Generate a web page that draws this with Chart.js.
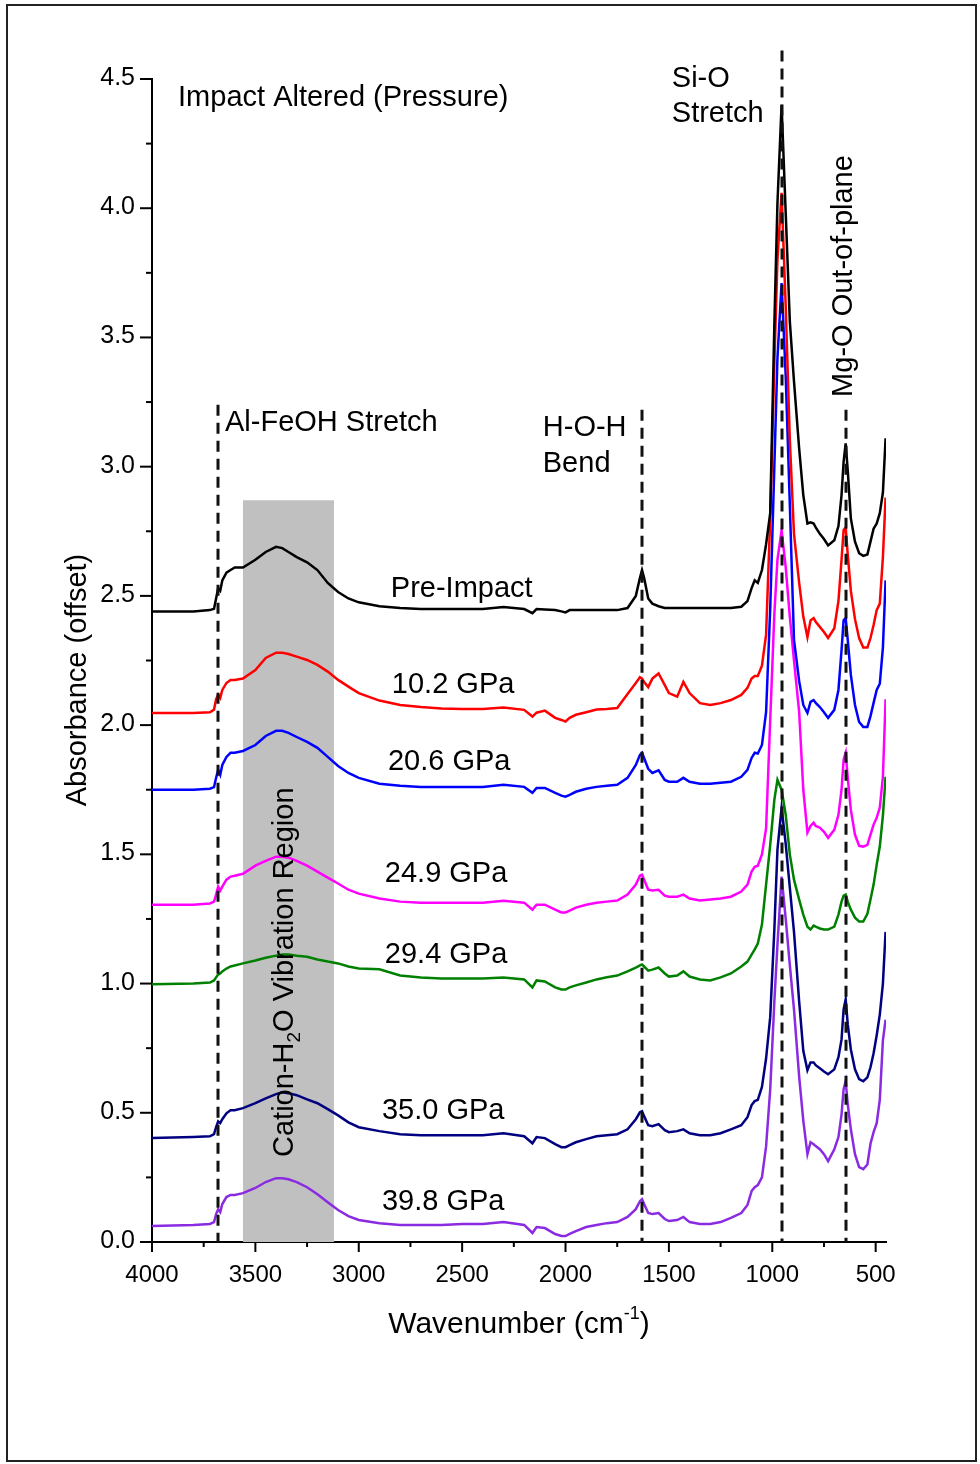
<!DOCTYPE html>
<html>
<head>
<meta charset="utf-8">
<title>Impact Altered (Pressure)</title>
<script src="https://cdn.jsdelivr.net/npm/chart.js@4.4.0/dist/chart.umd.min.js"></script>
<style>
  html, body { margin: 0; padding: 0; background: #fff; }
  canvas { display: block; }
</style>
</head>
<body>
<canvas id="chart" width="980" height="1464"></canvas>
<script>
// wavenumber grid (cm-1), shared by all spectra
const wavenumber = [
  4000, 3800, 3720, 3700, 3690, 3680, 3670, 3660, 3640, 3620,
  3600, 3560, 3500, 3450, 3400, 3370, 3340, 3300, 3250, 3200,
  3150, 3100, 3050, 3000, 2900, 2800, 2700, 2600, 2500, 2400,
  2300, 2200, 2160, 2140, 2100, 2050, 2020, 2000, 1980, 1950,
  1900, 1850, 1800, 1750, 1700, 1660, 1640, 1630, 1620, 1600,
  1580, 1550, 1520, 1500, 1460, 1430, 1400, 1350, 1300, 1250,
  1200, 1150, 1120, 1100, 1085, 1070, 1050, 1030, 1010, 990,
  975, 955, 935, 915, 895, 870, 850, 830, 815, 800,
  790, 770, 750, 730, 700, 680, 665, 655, 645, 635,
  620, 600, 580, 560, 540, 525, 510, 495, 480, 465, 452
];

const preImpact = [
  2.44, 2.44, 2.445, 2.45, 2.49, 2.53, 2.52, 2.56, 2.59, 2.60,
  2.61, 2.61, 2.64, 2.67, 2.69, 2.685, 2.67, 2.65, 2.63, 2.60,
  2.55, 2.515, 2.49, 2.475, 2.46, 2.453, 2.449, 2.449, 2.449, 2.449,
  2.457, 2.449, 2.433, 2.449, 2.447, 2.445, 2.44, 2.436, 2.445, 2.445,
  2.445, 2.445, 2.445, 2.445, 2.453, 2.50, 2.57, 2.60, 2.57, 2.49,
  2.47, 2.46, 2.453, 2.453, 2.453, 2.453, 2.453, 2.453, 2.453, 2.453,
  2.453, 2.458, 2.48, 2.53, 2.56, 2.55, 2.60, 2.70, 2.82, 3.55,
  4.02, 4.40, 3.98, 3.56, 3.33, 3.07, 2.89, 2.78, 2.785, 2.78,
  2.765, 2.74, 2.72, 2.695, 2.715, 2.77, 2.89, 3.02, 3.09, 2.985,
  2.80, 2.71, 2.665, 2.655, 2.66, 2.71, 2.76, 2.78, 2.82, 2.90, 3.11
];

const gpa10_2 = [
  2.047, 2.047, 2.05, 2.06, 2.10, 2.117, 2.105, 2.136, 2.163, 2.175,
  2.175, 2.18, 2.213, 2.26, 2.28, 2.28, 2.275, 2.265, 2.252, 2.233,
  2.207, 2.175, 2.149, 2.124, 2.095, 2.078, 2.07, 2.064, 2.062, 2.062,
  2.068, 2.059, 2.033, 2.048, 2.056, 2.028, 2.02, 2.014, 2.028, 2.04,
  2.05, 2.06, 2.062, 2.066, 2.12, 2.163, 2.185, 2.18, 2.167, 2.147,
  2.18, 2.20, 2.155, 2.124, 2.11, 2.167, 2.124, 2.085, 2.078, 2.085,
  2.097, 2.117, 2.144, 2.18, 2.19, 2.19, 2.23, 2.35, 2.80, 3.40,
  3.80, 4.06, 3.62, 3.10, 2.74, 2.55, 2.42, 2.34, 2.405, 2.414,
  2.40, 2.38, 2.36, 2.337, 2.375, 2.48, 2.64, 2.755, 2.765, 2.66,
  2.52, 2.41, 2.337, 2.30, 2.30, 2.337, 2.387, 2.445, 2.47, 2.65, 2.88
];

const gpa20_6 = [
  1.75, 1.75, 1.754, 1.76, 1.796, 1.827, 1.808, 1.846, 1.877, 1.893,
  1.893, 1.90, 1.923, 1.958, 1.978, 1.978, 1.97, 1.954, 1.935, 1.912,
  1.877, 1.842, 1.815, 1.796, 1.773, 1.765, 1.761, 1.761, 1.761, 1.761,
  1.769, 1.761, 1.738, 1.757, 1.757, 1.738, 1.727, 1.723, 1.73, 1.742,
  1.754, 1.761, 1.765, 1.769, 1.796, 1.846, 1.885, 1.893, 1.873, 1.831,
  1.815, 1.825, 1.788, 1.781, 1.781, 1.796, 1.781, 1.773, 1.773, 1.777,
  1.781, 1.80, 1.827, 1.873, 1.893, 1.89, 1.923, 2.05, 2.45, 3.00,
  3.42, 3.71, 3.35, 2.85, 2.33, 2.17, 2.078, 2.047, 2.09, 2.097,
  2.086, 2.07, 2.05, 2.028, 2.059, 2.136, 2.29, 2.406, 2.414, 2.33,
  2.194, 2.078, 2.012, 1.993, 1.993, 2.035, 2.086, 2.136, 2.16, 2.30, 2.56
];

const gpa24_9 = [
  1.305, 1.305, 1.31, 1.317, 1.344, 1.375, 1.36, 1.375, 1.402, 1.414,
  1.417, 1.425, 1.456, 1.475, 1.491, 1.491, 1.487, 1.475, 1.456, 1.433,
  1.41, 1.387, 1.363, 1.348, 1.329, 1.317, 1.313, 1.313, 1.313, 1.313,
  1.32, 1.313, 1.286, 1.305, 1.305, 1.286, 1.275, 1.275, 1.282, 1.294,
  1.305, 1.313, 1.317, 1.321, 1.344, 1.383, 1.417, 1.421, 1.402, 1.363,
  1.36, 1.363, 1.34, 1.336, 1.336, 1.344, 1.329, 1.321, 1.325, 1.329,
  1.336, 1.356, 1.383, 1.433, 1.452, 1.456, 1.50, 1.60, 2.02, 2.43,
  2.64, 2.754, 2.61, 2.418, 2.25, 2.05, 1.75, 1.584, 1.61, 1.622,
  1.61, 1.603, 1.587, 1.564, 1.595, 1.653, 1.75, 1.866, 1.893, 1.796,
  1.672, 1.576, 1.533, 1.53, 1.537, 1.576, 1.615, 1.642, 1.68, 1.80, 2.10
];

const gpa29_4 = [
  0.997, 1.0, 1.004, 1.012, 1.024, 1.035, 1.039, 1.047, 1.058, 1.066,
  1.07, 1.078, 1.089, 1.10, 1.108, 1.112, 1.112, 1.108, 1.104, 1.093,
  1.085, 1.078, 1.066, 1.058, 1.055, 1.031, 1.023, 1.02, 1.02, 1.02,
  1.023, 1.016, 0.985, 1.012, 1.008, 0.985, 0.977, 0.977, 0.985, 0.993,
  1.004, 1.016, 1.024, 1.031, 1.047, 1.062, 1.07, 1.074, 1.066, 1.05,
  1.054, 1.062, 1.039, 1.027, 1.031, 1.047, 1.027, 1.016, 1.012, 1.024,
  1.039, 1.066, 1.085, 1.112, 1.132, 1.155, 1.228, 1.383, 1.537, 1.711,
  1.788, 1.75, 1.653, 1.499, 1.402, 1.325, 1.267, 1.22, 1.209, 1.224,
  1.22, 1.213, 1.209, 1.209, 1.22, 1.267, 1.317, 1.34, 1.344, 1.317,
  1.286, 1.255, 1.24, 1.24, 1.27, 1.325, 1.383, 1.46, 1.53, 1.65, 1.80
];

const gpa35_0 = [
  0.402, 0.406, 0.409, 0.417, 0.444, 0.467, 0.46, 0.475, 0.498, 0.51,
  0.51, 0.518, 0.537, 0.556, 0.572, 0.579, 0.576, 0.568, 0.552, 0.537,
  0.514, 0.49, 0.463, 0.444, 0.429, 0.417, 0.413, 0.413, 0.413, 0.413,
  0.421, 0.409, 0.382, 0.406, 0.402, 0.379, 0.367, 0.367, 0.375, 0.386,
  0.398, 0.409, 0.413, 0.417, 0.436, 0.475, 0.502, 0.506, 0.487, 0.452,
  0.448, 0.456, 0.433, 0.425, 0.429, 0.436, 0.421, 0.413, 0.413, 0.421,
  0.436, 0.452, 0.483, 0.53, 0.545, 0.55, 0.60, 0.71, 0.87, 1.209,
  1.518, 1.68, 1.54, 1.37, 1.20, 0.93, 0.74, 0.665, 0.695, 0.695,
  0.684, 0.672, 0.66, 0.649, 0.668, 0.715, 0.784, 0.90, 0.939, 0.842,
  0.745, 0.668, 0.63, 0.622, 0.637, 0.676, 0.73, 0.80, 0.88, 1.0, 1.2
];

const gpa39_8 = [
  0.062, 0.066, 0.07, 0.077, 0.108, 0.127, 0.116, 0.147, 0.174, 0.182,
  0.182, 0.189, 0.209, 0.232, 0.247, 0.247, 0.243, 0.232, 0.212, 0.185,
  0.154, 0.124, 0.10, 0.085, 0.073, 0.066, 0.066, 0.066, 0.07, 0.07,
  0.077, 0.066, 0.035, 0.058, 0.054, 0.031, 0.023, 0.023, 0.031, 0.042,
  0.058, 0.066, 0.073, 0.077, 0.097, 0.127, 0.158, 0.166, 0.147, 0.112,
  0.108, 0.112, 0.089, 0.081, 0.085, 0.097, 0.077, 0.07, 0.07, 0.077,
  0.093, 0.112, 0.143, 0.197, 0.212, 0.22, 0.25, 0.37, 0.59, 0.93,
  1.15, 1.414, 1.25, 1.07, 0.90, 0.64, 0.47, 0.34, 0.386, 0.378,
  0.371, 0.359, 0.34, 0.313, 0.359, 0.406, 0.494, 0.591, 0.622, 0.533,
  0.436, 0.34, 0.29, 0.282, 0.30, 0.38, 0.425, 0.46, 0.55, 0.78, 0.86
];

const seriesNames = ['Pre-Impact', '10.2 GPa', '20.6 GPa', '24.9 GPa', '29.4 GPa', '35.0 GPa', '39.8 GPa'];
const seriesValues = [preImpact, gpa10_2, gpa20_6, gpa24_9, gpa29_4, gpa35_0, gpa39_8];
const seriesColors = ['#000000', '#ff0000', '#0000ff', '#ff00ff', '#008000', '#000080', '#8a2be2'];

const xTicks = [4000, 3500, 3000, 2500, 2000, 1500, 1000, 500];
const yTicks = [0, 0.5, 1.0, 1.5, 2.0, 2.5, 3.0, 3.5, 4.0, 4.5];

// band marks and peak guide lines (cm-1)
const cationBand = [3560, 3120];
const cationBandTop = 2.87;
const guideLines = [
  { wn: 3680, top: 3.24 },
  { wn: 1630, top: 3.22 },
  { wn: 955, top: 4.61 },
  { wn: 645, top: 3.22 }
];

// text anchors in data units (left / alphabetic baseline)
const seriesLabelAt = [
  [2845, 2.496], [2840, 2.124], [2859, 1.826], [2874, 1.393],
  [2874, 1.08], [2888, 0.476], [2888, 0.124]
];
const notes = [
  { text: 'Impact Altered (Pressure)', wn: 3874, y: 4.396 },
  { text: 'Si-O', wn: 1486, y: 4.469 },
  { text: 'Stretch', wn: 1486, y: 4.334 },
  { text: 'Al-FeOH Stretch', wn: 3647, y: 3.138 },
  { text: 'H-O-H', wn: 2110, y: 3.119 },
  { text: 'Bend', wn: 2110, y: 2.979 }
];

const FONT = "'Liberation Sans', Arial, Helvetica, sans-serif";

const datasets = seriesNames.map((name, i) => ({
  label: name,
  data: wavenumber.map((wn, j) => ({ x: wn, y: seriesValues[i][j] })),
  borderColor: seriesColors[i],
  borderWidth: 2.5,
  pointRadius: 0,
  tension: 0,
  fill: false
}));

const decorations = {
  id: 'decorations',
  beforeDraw(chart) {
    const ctx = chart.ctx;
    ctx.save();
    ctx.fillStyle = '#fff';
    ctx.fillRect(0, 0, chart.width, chart.height);
    ctx.restore();
  },
  beforeDatasetsDraw(chart) {
    const { ctx, scales: { x, y } } = chart;
    ctx.save();
    ctx.fillStyle = '#c0c0c0';
    const x1 = x.getPixelForValue(cationBand[0]);
    const x2 = x.getPixelForValue(cationBand[1]);
    const y1 = y.getPixelForValue(cationBandTop);
    ctx.fillRect(x1, y1, x2 - x1, y.getPixelForValue(0) - y1);
    ctx.restore();
  },
  afterDatasetsDraw(chart) {
    const { ctx, scales: { x, y } } = chart;
    const base = y.getPixelForValue(0);
    const left = x.getPixelForValue(4000);
    ctx.save();

    // dashed guide lines
    ctx.strokeStyle = '#111';
    ctx.lineWidth = 3;
    ctx.setLineDash([11, 7]);
    guideLines.forEach(g => {
      const px = Math.round(x.getPixelForValue(g.wn));
      ctx.beginPath();
      ctx.moveTo(px, y.getPixelForValue(g.top));
      ctx.lineTo(px, base);
      ctx.stroke();
    });
    ctx.setLineDash([]);

    // ticks
    ctx.strokeStyle = '#000';
    ctx.lineWidth = 2;
    ctx.fillStyle = '#000';
    ctx.font = '25px ' + FONT;
    ctx.textAlign = 'right';
    ctx.textBaseline = 'alphabetic';
    yTicks.forEach((v, i) => {
      const py = y.getPixelForValue(v);
      ctx.beginPath(); ctx.moveTo(left - 12, py); ctx.lineTo(left, py); ctx.stroke();
      ctx.fillText(v.toFixed(1), left - 17, py + 6);
      if (i < yTicks.length - 1) {
        const pm = y.getPixelForValue((v + yTicks[i + 1]) / 2);
        ctx.beginPath(); ctx.moveTo(left - 6, pm); ctx.lineTo(left, pm); ctx.stroke();
      }
    });
    ctx.font = '24px ' + FONT;
    ctx.textAlign = 'center';
    xTicks.forEach((v, i) => {
      const px = x.getPixelForValue(v);
      ctx.beginPath(); ctx.moveTo(px, base); ctx.lineTo(px, base + 10); ctx.stroke();
      ctx.fillText(String(v), px, base + 40);
      if (i < xTicks.length - 1) {
        const pm = x.getPixelForValue((v + xTicks[i + 1]) / 2);
        ctx.beginPath(); ctx.moveTo(pm, base); ctx.lineTo(pm, base + 5); ctx.stroke();
      }
    });

    // notes and series labels
    ctx.font = '29px ' + FONT;
    ctx.textAlign = 'left';
    notes.forEach(n => ctx.fillText(n.text, x.getPixelForValue(n.wn), y.getPixelForValue(n.y)));
    seriesNames.forEach((name, i) => {
      const [wn, v] = seriesLabelAt[i];
      ctx.fillText(name, x.getPixelForValue(wn), y.getPixelForValue(v));
    });

    // Mg-O rotated label
    ctx.save();
    ctx.translate(x.getPixelForValue(616), y.getPixelForValue(3.27));
    ctx.rotate(-Math.PI / 2);
    ctx.fillText('Mg-O Out-of-plane', 0, 0);
    ctx.restore();

    // Cation-H2O rotated label
    ctx.save();
    ctx.translate(x.getPixelForValue(3318), y.getPixelForValue(0.329));
    ctx.rotate(-Math.PI / 2);
    let cx = 0;
    ctx.font = '29px ' + FONT;
    ctx.fillText('Cation-H', cx, 0); cx += ctx.measureText('Cation-H').width;
    ctx.font = '19px ' + FONT;
    ctx.fillText('2', cx, 7); cx += ctx.measureText('2').width;
    ctx.font = '29px ' + FONT;
    ctx.fillText('O Vibration Region', cx, 0);
    ctx.restore();

    // axis titles
    ctx.save();
    ctx.font = '29px ' + FONT;
    ctx.textAlign = 'center';
    ctx.translate(86, 680);
    ctx.rotate(-Math.PI / 2);
    ctx.fillText('Absorbance (offset)', 0, 0);
    ctx.restore();

    ctx.font = '30px ' + FONT;
    const t1 = 'Wavenumber (cm', t2 = '-1', t3 = ')';
    const w1 = ctx.measureText(t1).width;
    ctx.font = '18px ' + FONT;
    const w2 = ctx.measureText(t2).width;
    ctx.font = '30px ' + FONT;
    const w3 = ctx.measureText(t3).width;
    let tx = 519 - (w1 + w2 + w3) / 2;
    ctx.textAlign = 'left';
    ctx.fillText(t1, tx, 1333); tx += w1;
    ctx.font = '18px ' + FONT;
    ctx.fillText(t2, tx, 1319); tx += w2;
    ctx.font = '30px ' + FONT;
    ctx.fillText(t3, tx, 1333);

    // figure frame
    ctx.strokeStyle = '#222';
    ctx.lineWidth = 2;
    ctx.strokeRect(7, 5, 969, 1456);
    ctx.restore();
  }
};

const chartEl = document.getElementById('chart');
const mychart = new Chart(chartEl, {
  type: 'line',
  data: { datasets },
  options: {
    responsive: false,
    animation: false,
    devicePixelRatio: 1,
    layout: { padding: { left: 0, top: 79, right: 94, bottom: 0 } },
    plugins: { legend: { display: false }, tooltip: { enabled: false } },
    scales: {
      x: {
        type: 'linear',
        reverse: true,
        min: 450,
        max: 4000,
        grid: { display: false },
        ticks: { display: false },
        border: { display: true, color: '#000', width: 2 },
        afterFit(scale) { scale.height = 222; }
      },
      y: {
        type: 'linear',
        min: 0,
        max: 4.5,
        grid: { display: false },
        ticks: { display: false },
        border: { display: true, color: '#000', width: 2 },
        afterFit(scale) { scale.width = 152; }
      }
    }
  },
  plugins: [decorations]
});
</script>
</body>
</html>
